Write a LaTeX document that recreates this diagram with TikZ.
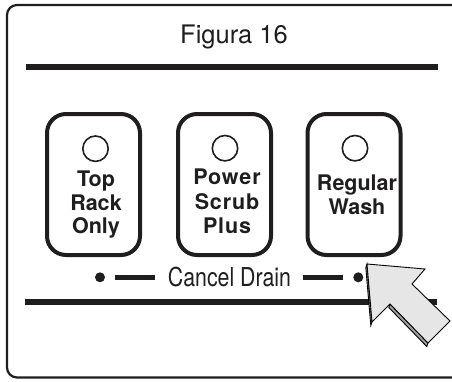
\documentclass[tikz,border=0pt]{standalone}
\usepackage{fontspec}
\setmainfont{TeX Gyre Heros}
\usepackage{graphicx}
\usetikzlibrary{calc}
\definecolor{ink}{HTML}{1F1D1E}
\definecolor{arrowface}{HTML}{E6E6E6}
\definecolor{arrowside}{HTML}{A0A0A0}
\begin{document}
\begin{tikzpicture}[x=1pt,y=-1pt,
  btn/.style={draw=ink, line width=4pt, rounded corners=19pt, minimum width=93pt, minimum height=141pt, inner sep=0pt},
  lamp/.style={draw=ink, circle, line width=1.6pt, minimum size=25.4pt, inner sep=0pt},
  btntxt/.style={font=\fontsize{21.5}{24}\selectfont\bfseries, anchor=base, inner sep=0pt, text=ink},
  spaced/.style={font=\fontsize{21.5}{24}\selectfont\bfseries\addfontfeature{LetterSpace=4}},
  bar/.style={draw=ink, line width=6pt},
  dashbar/.style={draw=ink, line width=5pt},
  arrowline/.style={draw=black, line width=0.9pt}
]
\useasboundingbox (0,0) rectangle (452,381);
\clip (0,0) rectangle (452,381);

% outer frame
\draw[draw=ink, line width=2.2pt, rounded corners=10pt] (7,5) rectangle (480,377.5);

% title and rules
\node[font=\fontsize{25.5}{30}\selectfont, anchor=base, inner sep=0pt, text=ink] (title) at (234,43.3) {Figura 16};
\draw[bar] (26,66.7) -- (438,66.7);
\draw[bar, line width=5.7pt] (25,302) -- (437,302);

% buttons
\node[btn] (b1) at (93.5,184.5) {};
\node[btn] (b2) at (224.5,184.5) {};
\node[btn] (b3) at (354,184.5) {};
\node[lamp] (l1) at (95.5,148.7) {};
\node[lamp] (l2) at (225,148.2) {};
\node[lamp] (l3) at (355,148.2) {};

\node[btntxt] (t1a) at (96,186) {Top};
\node[btntxt] (t1b) at (96,210) {Rack};
\node[btntxt] (t1c) at (96,233) {Only};
\node[btntxt, spaced] (t2a) at (227,184.5) {Power};
\node[btntxt, spaced] (t2b) at (227,209) {Scrub};
\node[btntxt, spaced] (t2c) at (227,233) {Plus};
\node[btntxt] (t3a) at (357,190.5) {Regular};
\node[btntxt] (t3b) at (357,214.5) {Wash};

% cancel drain
\node[font=\fontsize{26}{30}\selectfont, anchor=base, inner sep=0pt, text=ink] (cd) at (229.5,286.7) {\scalebox{0.82}[1]{Cancel Drain}};
\fill[ink] (100,277.3) circle[radius=5];
\draw[dashbar] (115,277.3) -- (155,277.3);
\draw[dashbar] (303.3,277.3) -- (343.3,277.3);
\fill[ink] (358.3,277.3) circle[radius=5];

% pointing arrow
\coordinate (A) at (367,264);
\coordinate (B) at (425,269);
\coordinate (C) at (412,284);
\coordinate (D) at (450,321);
\coordinate (E) at (428,343);
\coordinate (F) at (390,304);
\coordinate (G) at (372,322);
\filldraw[fill=arrowside, arrowline] (A) -- (G) -- ($(G)+(-1.2,3.5)$) -- ($(A)+(-1.2,3.5)$) -- cycle;
\filldraw[fill=arrowside, arrowline] (F) -- (E) -- ($(E)+(-1.2,3.5)$) -- ($(F)+(-1.2,3.5)$) -- cycle;
\filldraw[fill=arrowface, arrowline] (A) -- (B) -- (C) -- (D) -- (E) -- (F) -- (G) -- cycle;
\end{tikzpicture}
\end{document}
